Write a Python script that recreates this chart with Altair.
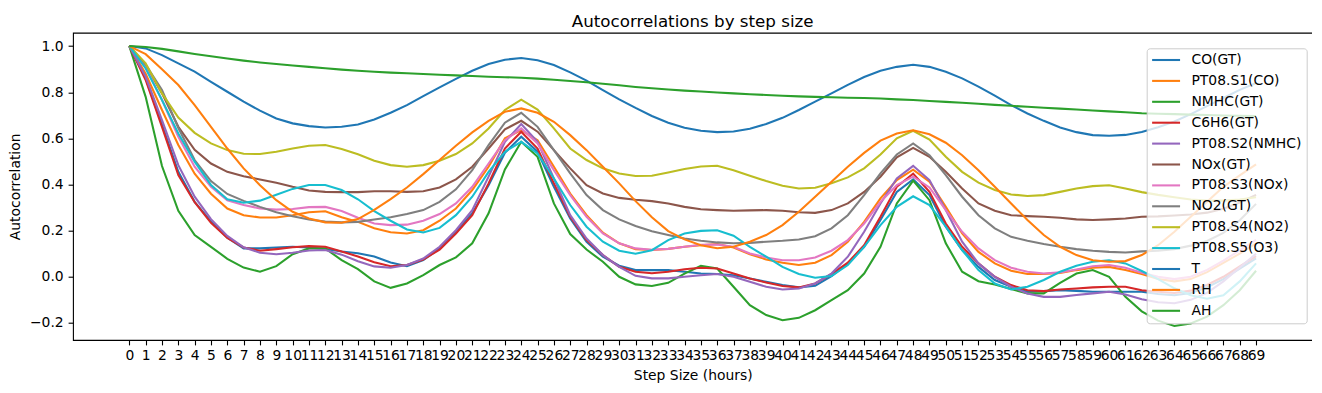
import altair as alt
import pandas as pd

lags = list(range(70))

series_names = ["CO(GT)", "PT08.S1(CO)", "NMHC(GT)", "C6H6(GT)", "PT08.S2(NMHC)",
                "NOx(GT)", "PT08.S3(NOx)", "NO2(GT)", "PT08.S4(NO2)", "PT08.S5(O3)",
                "T", "RH", "AH"]
colors = ["#1f77b4", "#ff7f0e", "#2ca02c", "#d62728", "#9467bd", "#8c564b",
          "#e377c2", "#7f7f7f", "#bcbd22", "#17becf", "#1f77b4", "#ff7f0e", "#2ca02c"]

co_gt = [1.0, .86, .66, .455, .325, .24, .17, .123, .123, .127, .13, .127, .121, .11, .102,
         .088, .062, .046, .072, .123, .195, .275, .397, .538, .607, .542, .39, .253, .152, .087,
         .048, .029, .029, .029, .022, .014, .012, .007, -.007, -.022, -.036, -.046, -.039, .003,
         .058, .13, .246, .368, .422, .354, .217, .116, .043, -.014, -.043, -.065, -.062, -.058,
         -.061, -.065, -.065, -.065, -.065, -.075, -.08, -.07, -.045, -.01, .035, .08]
pt08_s1_co = [1.0, .88, .723, .571, .447, .36, .296, .267, .257, .257, .267, .28, .284, .258, .238,
              .21, .193, .188, .202, .243, .296, .376, .477, .60, .636, .592, .477, .361, .267, .191,
              .145, .12, .116, .121, .13, .137, .142, .127, .098, .075, .061, .051, .061, .094,
              .152, .238, .34, .419, .464, .412, .303, .188, .108, .058, .026, .012, .012, .017,
              .029, .039, .043, .029, .012, -.01, -.02, -.01, .02, .06, .10, .145]
nmhc_gt = [1.0, .78, .48, .286, .181, .13, .078, .04, .022, .046, .098, .123, .123, .072, .033,
           -.02, -.048, -.029, .007, .051, .084, .145, .275, .465, .585, .52, .318, .185, .118, .065,
           .0, -.033, -.04, -.026, .014, .048, .036, -.043, -.123, -.166, -.188, -.178, -.145, -.101,
           -.058, .014, .13, .318, .417, .332, .145, .022, -.019, -.033, -.053, -.072, -.072, -.026,
           .014, .029, .0, -.087, -.15, -.19, -.213, -.202, -.173, -.123, -.058, .026]
c6h6_gt = [1.0, .853, .65, .441, .323, .234, .168, .127, .113, .12, .128, .133, .13, .11, .088,
           .063, .046, .051, .075, .118, .188, .267, .405, .556, .629, .556, .405, .26, .159, .094,
           .043, .022, .015, .022, .033, .039, .036, .014, -.007, -.025, -.04, -.046, -.029, .012,
           .061, .137, .26, .39, .447, .368, .231, .13, .058, .0, -.036, -.058, -.062, -.055,
           -.051, -.046, -.043, -.043, -.058, -.065, -.07, -.06, -.035, .0, .045, .09]
pt08_s2_nmhc = [1.0, .867, .679, .484, .347, .25, .177, .128, .104, .098, .104, .114, .116, .096, .067,
                .045, .039, .051, .079, .13, .202, .289, .434, .585, .662, .585, .426, .267, .166, .094,
                .043, .004, -.007, -.007, .0, .007, .012, .0, -.022, -.043, -.055, -.051, -.029, .014,
                .087, .195, .318, .426, .481, .419, .289, .152, .058, .0, -.043, -.072, -.087, -.087,
                -.079, -.072, -.065, -.077, -.097, -.11, -.115, -.10, -.07, -.02, .04, .10]
nox_gt = [1.0, .918, .795, .65, .55, .491, .455, .436, .422, .408, .39, .374, .368, .367, .367,
          .371, .371, .368, .371, .387, .422, .477, .556, .639, .676, .629, .549, .47, .397, .361,
          .342, .334, .328, .318, .303, .293, .289, .286, .288, .289, .286, .28, .277, .289,
          .318, .368, .434, .518, .559, .52, .455, .383, .318, .286, .267, .263, .26, .256,
          .249, .246, .249, .253, .26, .262, .266, .27, .278, .295, .322, .355]
pt08_s3_nox = [1.0, .91, .766, .607, .477, .39, .332, .311, .296, .291, .294, .302, .303, .285, .256,
               .231, .224, .226, .243, .272, .318, .39, .491, .592, .643, .578, .462, .354, .26, .188,
               .145, .123, .117, .121, .13, .139, .14, .13, .101, .084, .072, .072, .084, .113,
               .159, .231, .325, .397, .434, .387, .289, .195, .123, .072, .039, .022, .014, .019,
               .032, .046, .051, .039, .017, .0, -.01, .0, .03, .07, .115, .16]
no2_gt = [1.0, .92, .81, .645, .506, .415, .359, .329, .303, .28, .262, .248, .239, .236, .238,
          .248, .258, .272, .289, .325, .379, .462, .571, .668, .711, .65, .549, .448, .354, .289,
          .249, .22, .197, .181, .166, .156, .149, .145, .147, .152, .156, .162, .176, .21,
          .267, .354, .448, .53, .578, .527, .441, .347, .267, .21, .173, .156, .142, .13,
          .12, .113, .108, .105, .11, .113, .12, .135, .155, .19, .245, .316]
pt08_s4_no2 = [1.0, .925, .795, .69, .624, .578, .549, .533, .532, .542, .556, .568, .571, .554, .531,
               .503, .484, .477, .484, .503, .532, .578, .643, .723, .768, .725, .643, .556, .506, .47,
               .448, .437, .438, .452, .467, .478, .481, .462, .438, .415, .395, .383, .386, .405,
               .431, .47, .53, .60, .633, .595, .52, .455, .408, .376, .357, .35, .354, .368,
               .383, .393, .397, .383, .367, .355, .345, .335, .33, .33, .335, .345]
pt08_s5_o3 = [1.0, .903, .766, .621, .499, .398, .336, .321, .33, .356, .381, .398, .398, .376, .336,
              .285, .243, .205, .192, .212, .267, .347, .455, .542, .585, .535, .426, .311, .217, .152,
              .113, .10, .115, .159, .188, .199, .202, .178, .13, .087, .043, .012, -.004, .003,
              .051, .13, .224, .303, .349, .311, .217, .116, .029, -.029, -.055, -.043, -.014, .022,
              .048, .065, .072, .058, .025, -.01, -.05, -.08, -.095, -.08, -.02, .058]
t_vals = [1.0, .99, .961, .925, .889, .845, .802, .759, .72, .686, .665, .653, .647, .65, .66,
          .682, .711, .744, .783, .821, .858, .893, .922, .941, .948, .939, .918, .886, .85, .809,
          .769, .732, .697, .668, .646, .633, .627, .63, .642, .662, .689, .723, .759, .795,
          .832, .866, .893, .91, .919, .91, .889, .86, .824, .785, .744, .708, .676, .647,
          .627, .614, .611, .615, .628, .648, .673, .705, .74, .775, .81, .84]
rh_vals = [1.0, .965, .90, .831, .744, .65, .556, .47, .397, .332, .282, .253, .236, .234, .25,
           .29, .337, .387, .445, .506, .568, .626, .676, .715, .73, .711, .672, .614, .549, .477,
           .405, .328, .258, .198, .162, .137, .124, .13, .152, .181, .224, .282, .347, .412,
           .477, .537, .59, .621, .635, .618, .581, .527, .462, .39, .318, .246, .181, .13,
           .094, .072, .065, .068, .094, .137, .195, .26, .325, .39, .44, .487]
ah_vals = [1.0, .996, .988, .977, .966, .956, .946, .937, .929, .922, .916, .910, .904, .898, .893,
           .889, .885, .882, .879, .876, .873, .870, .867, .865, .863, .859, .854, .849, .843, .837,
           .830, .823, .817, .812, .807, .803, .799, .795, .791, .788, .785, .782, .780, .778,
           .776, .775, .773, .769, .766, .762, .758, .754, .750, .745, .741, .737, .733, .729,
           .725, .721, .717, .713, .709, .707, .705, .703, .701, .699, .698, .697]

all_series = [co_gt, pt08_s1_co, nmhc_gt, c6h6_gt, pt08_s2_nmhc, nox_gt, pt08_s3_nox,
              no2_gt, pt08_s4_no2, pt08_s5_o3, t_vals, rh_vals, ah_vals]

x_ticks = lags
y_ticks = [-0.2, 0.0, 0.2, 0.4, 0.6, 0.8, 1.0]

rows = []
for i, (name, vals) in enumerate(zip(series_names, all_series)):
    for k, v in zip(lags, vals):
        rows.append({"lag": k, "series": name, "acf": v, "idx": i})
df = pd.DataFrame(rows)

FONT = "DejaVu Sans"

chart = alt.Chart(df).mark_line(strokeWidth=2.08).encode(
    x=alt.X("lag:Q",
            scale=alt.Scale(domain=[-3.45, 72.45], nice=False, zero=False),
            axis=alt.Axis(values=x_ticks, labelOverlap=False, labelFlush=False, grid=False,
                          domain=False, tickColor="black", tickWidth=1.1, tickSize=4.9,
                          labelPadding=4.1, labelFont=FONT, labelFontSize=13.9,
                          labelColor="black", title="Step Size (hours)", titleFont=FONT,
                          titleFontSize=13.9, titleFontWeight="normal", titleColor="black",
                          titlePadding=5.6)),
    y=alt.Y("acf:Q",
            scale=alt.Scale(domain=[-0.274, 1.058], nice=False, zero=False),
            axis=alt.Axis(values=y_ticks, format=".1f", grid=False, domain=False,
                          tickColor="black", tickWidth=1.1, tickSize=4.9, labelPadding=4.9,
                          labelFont=FONT, labelFontSize=13.9, labelColor="black",
                          title="Autocorrelation", titleFont=FONT, titleFontSize=13.9,
                          titleFontWeight="normal", titleColor="black", titlePadding=7)),
    color=alt.Color("series:N",
                    scale=alt.Scale(domain=series_names, range=colors),
                    legend=alt.Legend(orient="none", legendX=1073.7, legendY=15.6, title=None,
                                      fillColor="rgba(255,255,255,0.8)", strokeColor="#cccccc",
                                      cornerRadius=3, padding=4.7, rowPadding=6.9,
                                      symbolType="M-2.5,0L2.5,0", symbolSize=125,
                                      symbolStrokeWidth=2.08, symbolOffset=7.7, labelOffset=18.4,
                                      labelFont=FONT, labelFontSize=13.9, labelColor="black",
                                      labelLimit=300, zindex=1)),
    detail="idx:O",
    order="lag:Q",
).properties(
    width=1239.4,
    height=307.3,
    title=alt.TitleParams("Autocorrelations by step size", font=FONT, fontSize=16.7,
                          fontWeight="normal", color="black", anchor="middle",
                          baseline="alphabetic", offset=0, dy=10.6),
    autosize=alt.AutoSizeParams(type="none"),
    padding={"left": 65, "top": 24.7, "right": 0, "bottom": 45},
).configure_view(stroke="black", strokeWidth=1.1)

chart.save("out.html", embed_options={"renderer": "svg", "actions": False})
